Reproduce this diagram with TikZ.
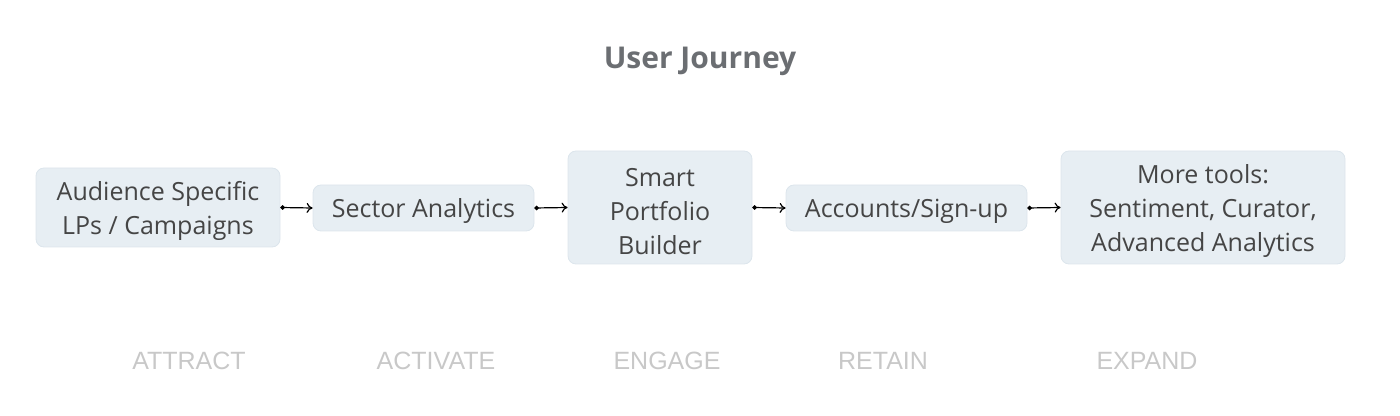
\documentclass[tikz,border=0pt]{standalone}
\usepackage{fontspec}
\setmainfont{Open Sans}
\newfontfamily\stagefont{Liberation Sans}
\usetikzlibrary{arrows.meta}
\definecolor{boxfill}{HTML}{E7EEF3}
\definecolor{boxline}{HTML}{DCE5EC}
\definecolor{boxtext}{HTML}{454545}
\definecolor{titlegray}{HTML}{6B6E72}
\definecolor{stagegray}{HTML}{C8C8C8}
\begin{document}
\begin{tikzpicture}[x=0.5pt,y=-0.5pt,
  stepbox/.style={draw=boxline,fill=boxfill,rounded corners=4pt,align=center,
    inner sep=0pt,text=boxtext,font=\fontsize{12.5}{17}\selectfont,
    execute at begin node={\rule{0pt}{#1}}},
  stepbox/.default=13pt,
  stage/.style={text=stagegray,font=\stagefont\fontsize{12.5}{15}\selectfont},
  flow/.style={line width=0.6pt,{Circle[length=2.2pt]}-{To[length=3pt,width=5pt]}}]
  % 边界
  \useasboundingbox (0,0) rectangle (1400,416);
  % 标题
  \node[text=titlegray,font=\bfseries\fontsize{15}{18}\selectfont] (title) at (700,61) {User Journey};
  % 阶段框
  \node[stepbox=30pt,minimum width=122pt,minimum height=39.5pt] (attract) at (158,207.5) {Audience Specific\\LPs / Campaigns};
  \node[stepbox,minimum width=110.5pt,minimum height=23pt] (activate) at (423.5,208) {Sector Analytics};
  \node[stepbox=47pt,minimum width=92pt,minimum height=56.5pt] (engage) at (660,207.5) {Smart\\Portfolio\\Builder};
  \node[stepbox,minimum width=120.5pt,minimum height=23pt] (retain) at (906.5,208) {Accounts/Sign-up};
  \node[stepbox=47pt,minimum width=142pt,minimum height=56.5pt] (expand) at (1203,207.5) {More tools:\\Sentiment, Curator,\\Advanced Analytics};
  % 连线
  \draw[flow] (attract.east) -- (activate.west);
  \draw[flow] (activate.east) -- (engage.west);
  \draw[flow] (engage.east) -- (retain.west);
  \draw[flow] (retain.east) -- (expand.west);
  % 阶段名
  \node[stage] (l1) at (189,361) {ATTRACT};
  \node[stage] (l2) at (436,361) {ACTIVATE};
  \node[stage] (l3) at (667,361) {ENGAGE};
  \node[stage] (l4) at (883,361) {RETAIN};
  \node[stage] (l5) at (1147,361) {EXPAND};
\end{tikzpicture}
\end{document}
